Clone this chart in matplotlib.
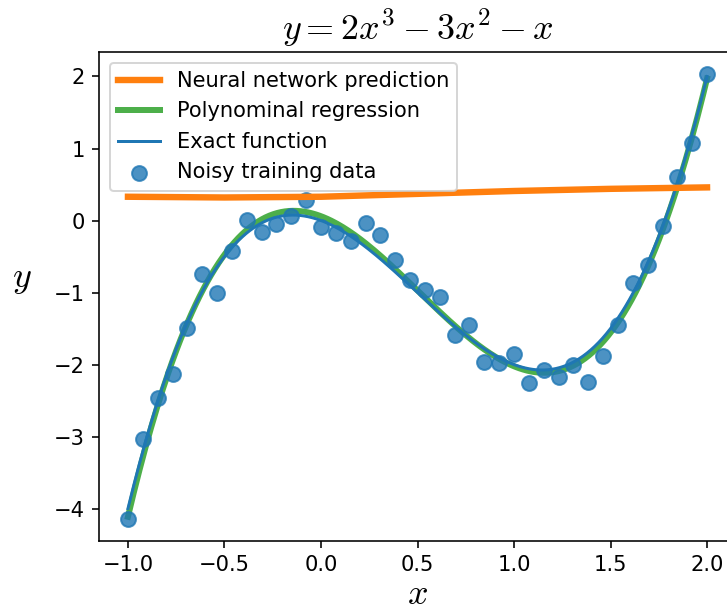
import numpy as np
import matplotlib
matplotlib.use("Agg")
import matplotlib.pyplot as plt

plt.rcParams['mathtext.fontset'] = 'cm'

# Noisy training data (40 points on [-1, 2])
x_data = np.linspace(-1, 2, 40)
y_data = [-4.14, -3.03, -2.46, -2.13, -1.49, -0.74, -1.00, -0.43, 0.01, -0.16,
          -0.05, 0.06, 0.28, -0.09, -0.17, -0.28, -0.03, -0.20, -0.55, -0.83,
          -0.97, -1.06, -1.59, -1.45, -1.96, -1.98, -1.86, -2.26, -2.08, -2.17,
          -2.00, -2.24, -1.88, -1.45, -0.87, -0.62, -0.08, 0.61, 1.07, 2.03]

# Exact function coefficients y = 2x^3 - 3x^2 - x
exact_coeffs = [2, -3, -1, 0]

# Neural network prediction
nn_x = [-1.0, -0.5, 0.0, 0.5, 1.0, 1.5, 2.0]
nn_y = [0.33, 0.32, 0.33, 0.37, 0.41, 0.44, 0.46]

x_fine = np.linspace(-1, 2, 300)
poly_coeffs = np.polyfit(x_data, y_data, 3)

dpi = 144
fig = plt.figure(figsize=(727 / dpi, 615 / dpi), dpi=dpi)
ax = fig.add_axes([99 / 727, (615 - 541) / 615, (736 - 99) / 727, (541 - 52) / 615])

ax.plot(nn_x, nn_y, color='#ff7f0e', lw=3.2, label='Neural network prediction', zorder=5)
ax.plot(x_fine, np.polyval(poly_coeffs, x_fine), color='#4daf4a', lw=3,
        label='Polynominal regression', zorder=2)
ax.plot(x_fine, np.polyval(exact_coeffs, x_fine), color='#1f77b4', lw=1.5,
        label='Exact function', zorder=3)
ax.scatter(x_data, y_data, s=55, color='#1f77b4', alpha=0.8,
           label='Noisy training data', zorder=4)

ax.set_xlim(-1.15, 2.15)
ax.set_ylim(-4.45, 2.34)
ax.set_xticks([-1.0, -0.5, 0.0, 0.5, 1.0, 1.5, 2.0])
ax.set_yticks([-4, -3, -2, -1, 0, 1, 2])
ax.tick_params(labelsize=10.5)

ax.set_title(r'$y = 2x^3 - 3x^2 - x$', fontsize=18, pad=6)
ax.set_xlabel(r'$x$', fontsize=18, labelpad=1)
ax.set_ylabel(r'$y$', fontsize=18, rotation=0, labelpad=16)

ax.legend(loc='upper left', fontsize=10.5)

fig.savefig('out.png', dpi=dpi)
